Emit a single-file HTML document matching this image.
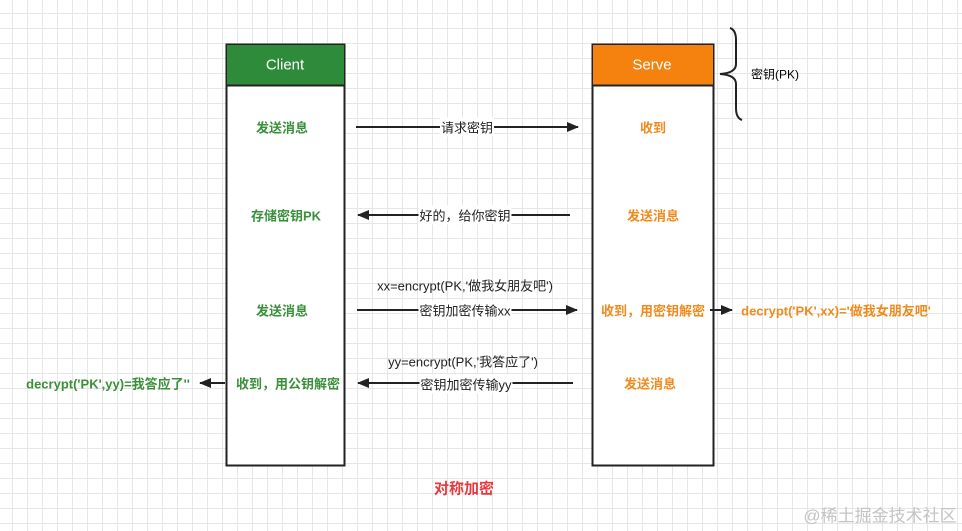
<!DOCTYPE html>
<html><head><meta charset="utf-8"><style>
body{margin:0;width:962px;height:531px;overflow:hidden;background:#fff;
background-image:linear-gradient(#e6e6e6 1px,transparent 1px),linear-gradient(90deg,#e6e6e6 1px,transparent 1px);
background-size:15px 15px;background-position:-3px -2px;font-family:"Liberation Sans","Noto Sans CJK SC",sans-serif;position:relative}
.t{position:absolute;font-size:13px;font-weight:bold;white-space:nowrap;transform:translate(-50%,-50%)}
.g{color:#3a8f3a}.o{color:#f08a1c}.k{color:#222;font-weight:normal;background:#fff;padding:0 1px}
</style></head><body>
<svg width="962" height="531" style="position:absolute;left:0;top:0">
<defs><marker id="a" markerWidth="12" markerHeight="10" refX="11" refY="5" orient="auto" markerUnits="userSpaceOnUse"><path d="M0,0L12,5L0,10z" fill="#222"/></marker></defs>
<rect x="226.5" y="44.5" width="118" height="421" fill="#fff" stroke="#222" stroke-width="2"/>
<rect x="227" y="45" width="117" height="40" fill="#2e8b3a"/>
<line x1="226" y1="85.5" x2="345" y2="85.5" stroke="#222" stroke-width="2"/>
<rect x="592.5" y="44.5" width="121" height="421" fill="#fff" stroke="#222" stroke-width="2"/>
<rect x="593" y="45" width="120" height="40" fill="#f5820f"/>
<line x1="592" y1="85.5" x2="714" y2="85.5" stroke="#222" stroke-width="2"/>
<path d="M730,28 Q736,30 736,40 L736,64 Q736,73 720,74 Q736,75 736,84 L736,108 Q736,118 742,120" fill="none" stroke="#222" stroke-width="2"/>
<g stroke="#222" stroke-width="2" marker-end="url(#a)">
<line x1="356" y1="127" x2="578" y2="127"/>
<line x1="570" y1="215" x2="358" y2="215"/>
<line x1="357" y1="310" x2="577" y2="310"/>
<line x1="573" y1="383" x2="358" y2="383"/>
<line x1="710" y1="310" x2="732" y2="310"/>
<line x1="225" y1="383" x2="200" y2="383"/>
</g>
</svg>
<div class="t" style="left:285px;top:65px;color:#fff;font-size:15px;font-weight:normal">Client</div>
<div class="t" style="left:652px;top:65px;color:#fff;font-size:15px;font-weight:normal">Serve</div>
<div class="t" style="left:775px;top:74px;font-weight:normal;font-size:12px">密钥(PK)</div>
<div class="t g" style="left:282px;top:127px">发送消息</div>
<div class="t g" style="left:286px;top:215px">存储密钥PK</div>
<div class="t g" style="left:282px;top:310px">发送消息</div>
<div class="t g" style="left:288px;top:383px">收到，用公钥解密</div>
<div class="t g" style="left:108px;top:383px">decrypt('PK',yy)=我答应了''</div>
<div class="t o" style="left:653px;top:127px">收到</div>
<div class="t o" style="left:653px;top:215px">发送消息</div>
<div class="t o" style="left:653px;top:310px">收到，用密钥解密</div>
<div class="t o" style="left:650px;top:383px">发送消息</div>
<div class="t o" style="left:836px;top:310px">decrypt('PK',xx)='做我女朋友吧'</div>
<div class="t k" style="left:467px;top:127px">请求密钥</div>
<div class="t k" style="left:465px;top:215px">好的，给你密钥</div>
<div class="t k" style="left:465px;top:310px">密钥加密传输xx</div>
<div class="t k" style="left:466px;top:384px">密钥加密传输yy</div>
<div class="t k" style="left:465px;top:285px;background:none">xx=encrypt(PK,'做我女朋友吧')</div>
<div class="t k" style="left:463px;top:361px;background:none">yy=encrypt(PK,'我答应了')</div>
<div class="t" style="left:464px;top:488px;color:#e8383d;font-size:15px">对称加密</div>
<div class="t" style="left:880px;top:514px;color:#c4c4c4;font-size:17px;font-weight:normal">@稀土掘金技术社区</div>
</body></html>
